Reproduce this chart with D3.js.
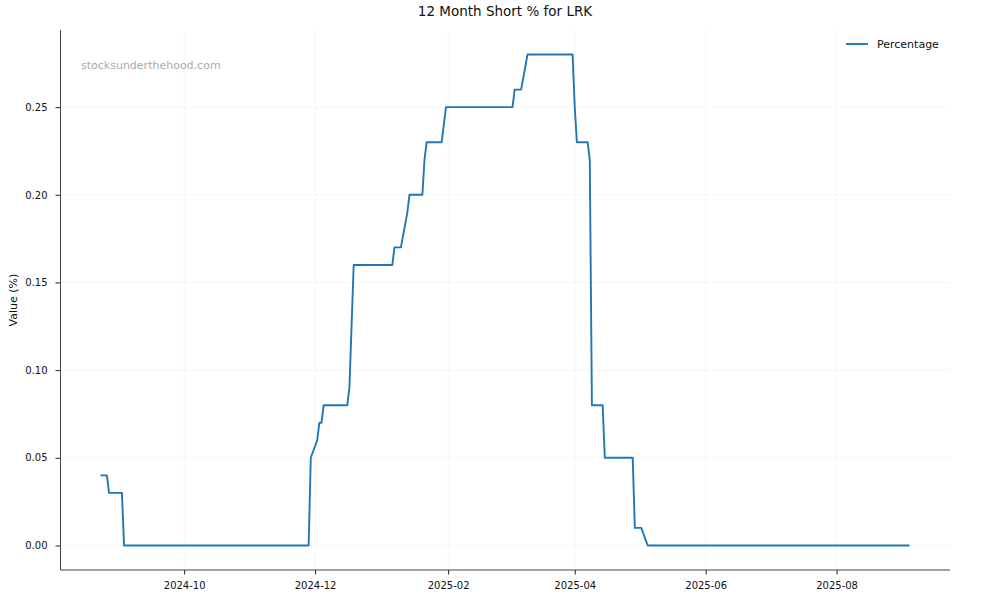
<!DOCTYPE html>
<html lang="en">

<head>
  <meta charset="UTF-8">
  <script src="https://d3js.org/d3.v7.min.js"></script>
  <title>12 Month Short % for LRK</title>
  <style>
    body { margin: 0; background: #fff; overflow: hidden; }
    svg { display: block; }
    text { font-family: "DejaVu Sans", sans-serif; }
  </style>
</head>

<body>
  <svg width="1000" height="600"></svg>
</body>
<script>
  // data (vertices of the step line)
  const dates = [
    "2024-08-23", "2024-08-26", "2024-08-27", "2024-09-02", "2024-09-03",
    "2024-11-28", "2024-11-29", "2024-12-02", "2024-12-03", "2024-12-04", "2024-12-05",
    "2024-12-16", "2024-12-17", "2024-12-19", "2025-01-06", "2025-01-07",
    "2025-01-10", "2025-01-13", "2025-01-14", "2025-01-20", "2025-01-21", "2025-01-22",
    "2025-01-29", "2025-01-31", "2025-03-03", "2025-03-04", "2025-03-07", "2025-03-10",
    "2025-03-31", "2025-04-01", "2025-04-02", "2025-04-07", "2025-04-08", "2025-04-09",
    "2025-04-14", "2025-04-15", "2025-04-28", "2025-04-29", "2025-05-02", "2025-05-05",
    "2025-09-04"
  ];
  const values = [
    0.04, 0.04, 0.03, 0.03, 0.00,
    0.00, 0.05, 0.06, 0.07, 0.07, 0.08,
    0.08, 0.09, 0.16, 0.16, 0.17,
    0.17, 0.19, 0.20, 0.20, 0.22, 0.23,
    0.23, 0.25, 0.25, 0.26, 0.26, 0.28,
    0.28, 0.25, 0.23, 0.23, 0.22, 0.08,
    0.08, 0.05, 0.05, 0.01, 0.01, 0.00,
    0.00
  ];
  const yTicks = [0.00, 0.05, 0.10, 0.15, 0.20, 0.25];
  const xTicks = ["2024-10", "2024-12", "2025-02", "2025-04", "2025-06", "2025-08"];

  const parse = d3.timeParse("%Y-%m-%d");
  const data = dates.map((d, i) => ({ day: parse(d), value: values[i] }));

  const svg = d3.select("svg");
  const margin = { left: 60, top: 30, right: 50, bottom: 30 };
  const innerWidth = 1000 - margin.left - margin.right;
  const innerHeight = 600 - margin.top - margin.bottom;

  const chart = svg.append("g")
    .attr("transform", "translate(" + margin.left + "," + margin.top + ")");

  // 5% padding like matplotlib
  const [x0, x1] = d3.extent(data, d => d.day);
  const padX = (x1 - x0) * 0.05;
  const xScale = d3.scaleTime()
    .domain([new Date(+x0 - padX), new Date(+x1 + padX)])
    .range([0, innerWidth]);

  const yMax = d3.max(values), yMin = d3.min(values);
  const padY = (yMax - yMin) * 0.05;
  const yScale = d3.scaleLinear()
    .domain([yMin - padY, yMax + padY])
    .range([innerHeight, 0]);

  const xTickDates = xTicks.map(d3.timeParse("%Y-%m"));

  // grid
  chart.append("g")
    .selectAll("line")
    .data(xTickDates)
    .join("line")
    .attr("x1", d => xScale(d)).attr("x2", d => xScale(d))
    .attr("y1", 0).attr("y2", innerHeight)
    .attr("stroke", "#f2f2f2").attr("stroke-width", 0.8);

  chart.append("g")
    .selectAll("line")
    .data(yTicks)
    .join("line")
    .attr("x1", 0).attr("x2", innerWidth)
    .attr("y1", d => yScale(d)).attr("y2", d => yScale(d))
    .attr("stroke", "#f2f2f2").attr("stroke-width", 0.8);

  // axes
  const xAxis = chart.append("g")
    .attr("transform", "translate(0," + innerHeight + ")")
    .call(d3.axisBottom(xScale).tickValues(xTickDates)
      .tickFormat(d3.timeFormat("%Y-%m")).tickSize(4.5).tickPadding(7.5));

  const yAxis = chart.append("g")
    .call(d3.axisLeft(yScale).tickValues(yTicks)
      .tickFormat(d3.format(".2f")).tickSize(4.5).tickPadding(8));

  [xAxis, yAxis].forEach(a => {
    a.select(".domain").attr("stroke", "#444").attr("stroke-width", 1)
      .attr("d", a === xAxis ? "M0.5,0H" + innerWidth : "M0.5,0V" + innerHeight);
    a.selectAll(".tick line").attr("stroke", "#222");
    a.selectAll(".tick text").attr("fill", "#111").style("font-size", "10px")
      .style("font-family", "DejaVu Sans");
  });

  // line
  const line = d3.line()
    .x(d => xScale(d.day))
    .y(d => yScale(d.value));

  chart.append("path")
    .datum(data)
    .attr("d", line)
    .attr("fill", "none")
    .attr("stroke", "#1f77b4")
    .attr("stroke-width", 1.9)
    .attr("stroke-linejoin", "round");

  // watermark
  chart.append("text")
    .attr("x", 21)
    .attr("y", 39)
    .attr("fill", "#aaaaaa")
    .style("font-size", "11px")
    .text("stocksunderthehood.com");

  // legend
  const legend = chart.append("g")
    .attr("transform", "translate(" + (innerWidth - 104) + ",14)");
  legend.append("line")
    .attr("x1", 0).attr("x2", 22)
    .attr("stroke", "#1f77b4").attr("stroke-width", 1.9);
  legend.append("text")
    .attr("x", 31).attr("dy", "0.35em")
    .attr("fill", "#111")
    .style("font-size", "11px")
    .text("Percentage");

  // title
  svg.append("text")
    .attr("x", margin.left + innerWidth / 2)
    .attr("y", 16)
    .attr("text-anchor", "middle")
    .attr("fill", "#111")
    .style("font-size", "13.5px")
    .text("12 Month Short % for LRK");

  // y label
  svg.append("text")
    .attr("transform", "translate(17," + (margin.top + innerHeight / 2) + ") rotate(-90)")
    .attr("text-anchor", "middle")
    .attr("fill", "#111")
    .style("font-size", "11px")
    .text("Value (%)");
</script>

</html>
